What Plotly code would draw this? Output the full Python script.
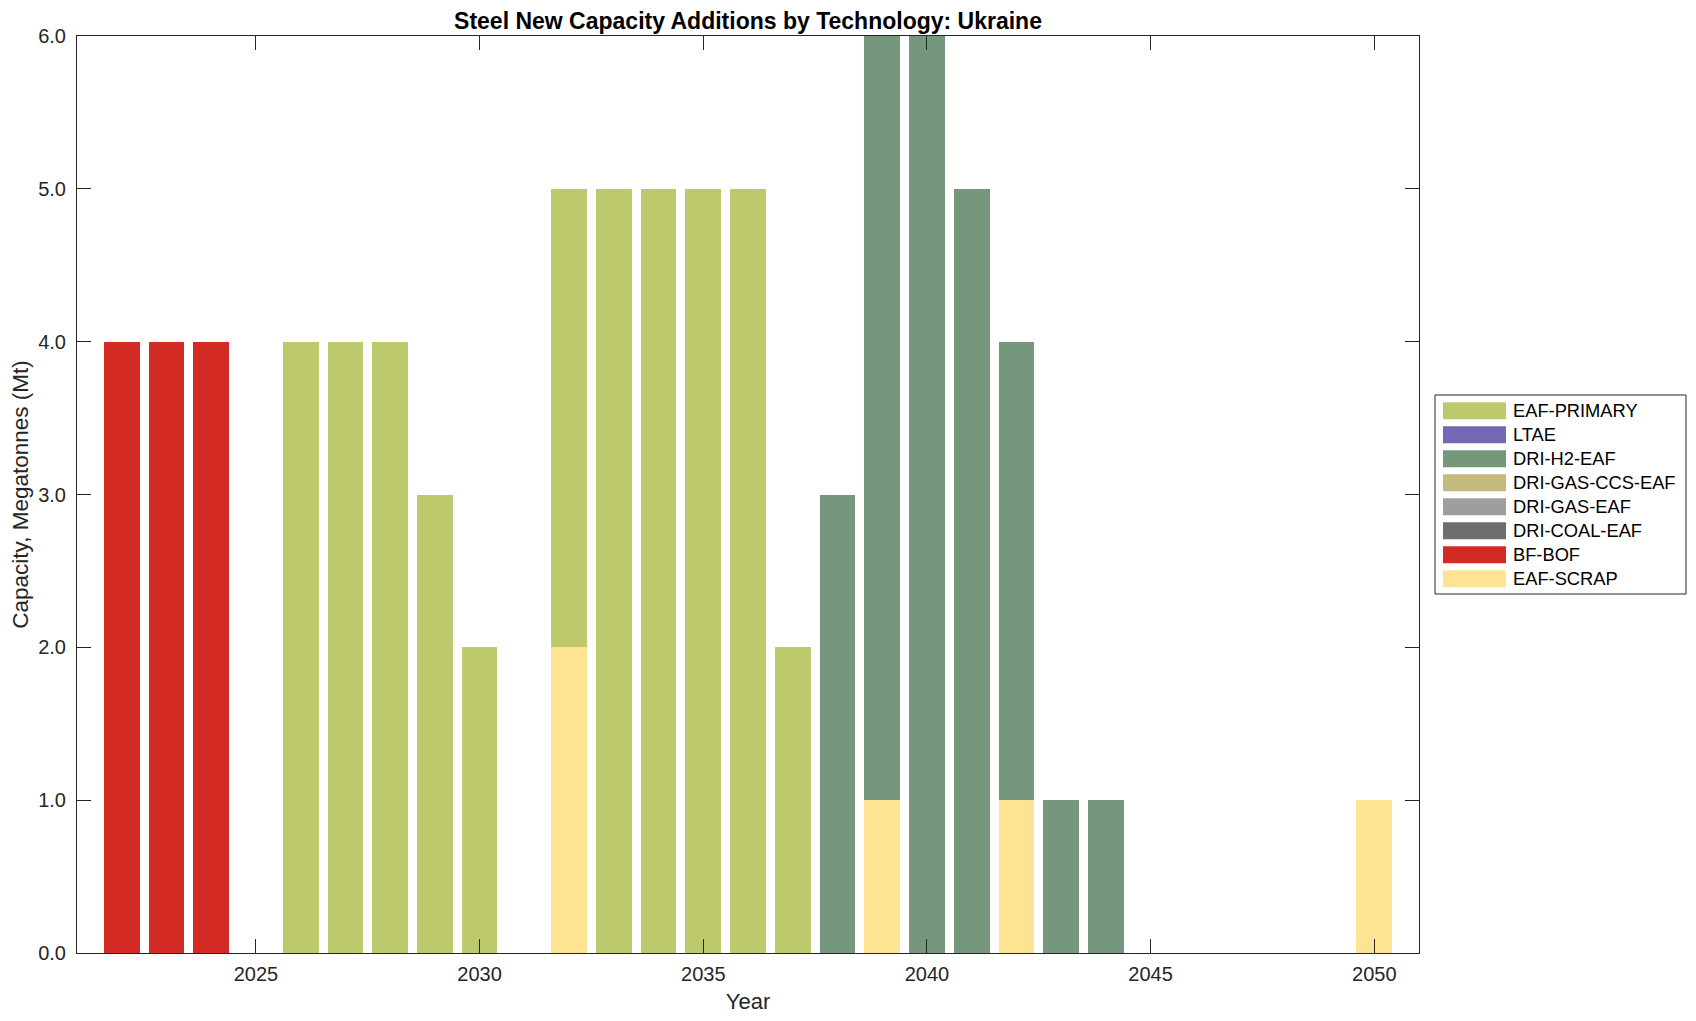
import plotly.graph_objects as go

years = list(range(2022, 2051))
# stacking order bottom -> top
techs = ["EAF-SCRAP", "BF-BOF", "DRI-COAL-EAF", "DRI-GAS-EAF", "DRI-GAS-CCS-EAF", "DRI-H2-EAF", "LTAE", "EAF-PRIMARY"]
colors = ["#FEE492", "#D32A24", "#6E6E6E", "#9E9E9E", "#C4BA7C", "#75987D", "#7368B6", "#BEC86C"]

#            2022 ...                                                                                 2050
eaf_scrap   = [0,0,0,0,0,0,0,0,0,0, 2,0,0,0,0,0,0, 1,0,0, 1,0,0,0,0,0,0,0, 1]
bf_bof      = [4,4,4,0,0,0,0,0,0,0, 0,0,0,0,0,0,0, 0,0,0, 0,0,0,0,0,0,0,0, 0]
dri_coal    = [0]*29
dri_gas     = [0]*29
dri_gas_ccs = [0]*29
dri_h2      = [0,0,0,0,0,0,0,0,0,0, 0,0,0,0,0,0,3, 5,6,5, 3,1,1,0,0,0,0,0, 0]
ltae        = [0]*29
eaf_primary = [0,0,0,0,4,4,4,3,2,0, 3,5,5,5,5,2,0, 0,0,0, 0,0,0,0,0,0,0,0, 0]
series = [eaf_scrap, bf_bof, dri_coal, dri_gas, dri_gas_ccs, dri_h2, ltae, eaf_primary]

# page body has an 8px margin; figure is sized/positioned to compensate
OFF = 8
W, H = 1696 - OFF, 1021 - OFF
L, R, T, B = 77 - OFF, 1419 - OFF, 36 - OFF, 953 - OFF

fig = go.Figure()
for name, col, vals in zip(techs, colors, series):
    fig.add_trace(go.Bar(x=years, y=vals, name=name, marker_color=col,
                         marker_line_width=0, width=0.8, showlegend=False))

font = "Liberation Sans, Arial, Helvetica, sans-serif"
axis_common = dict(showline=True, linecolor="#262626", linewidth=1, mirror="ticks",
                   ticks="inside", ticklen=14, tickcolor="#262626", showgrid=False,
                   zeroline=False, tickfont=dict(family=font, size=20, color="#262626"))
fig.update_layout(
    width=W, height=H, barmode="stack", bargap=0.2,
    plot_bgcolor="white", paper_bgcolor="white",
    margin=dict(l=L, r=W - R, t=T, b=H - B, autoexpand=False),
    title=dict(text="<b>Steel New Capacity Additions by Technology: Ukraine</b>",
               x=(L + R) / 2 / W, xanchor="center", y=1 - (21 - OFF) / H, yanchor="middle",
               yref="container", font=dict(family=font, size=23, color="black")),
    xaxis=dict(range=[2021, 2051], tickvals=[2025, 2030, 2035, 2040, 2045, 2050],
               ticklabelstandoff=3,
               title=dict(text="Year", font=dict(family=font, size=22, color="#262626"), standoff=9),
               **axis_common),
    yaxis=dict(range=[0, 6], tickvals=[0, 1, 2, 3, 4, 5, 6], tickformat=".1f",
               ticklabelstandoff=6,
               title=dict(text="Capacity, Megatonnes (Mt)", font=dict(family=font, size=22.5, color="#262626"), standoff=3),
               **axis_common),
)

def px(xp):
    return (xp - OFF - L) / (R - L)

def py(yp):
    return (B - (yp - OFF)) / (B - T)

# custom legend (box, swatches, labels), top entry = last stacked series
fig.add_shape(type="rect", xref="paper", yref="paper", x0=px(1435), x1=px(1686), y0=py(594), y1=py(395),
              line=dict(color="#262626", width=1), fillcolor="white")
for k, idx in enumerate(reversed(range(len(techs)))):
    cy = 360 + (152 + 72 * k) / 3
    fig.add_shape(type="rect", xref="paper", yref="paper", x0=px(1443), x1=px(1506),
                  y0=py(cy + 8.5), y1=py(cy - 8.5), line=dict(width=0), fillcolor=colors[idx])
    fig.add_annotation(xref="paper", yref="paper", x=px(1511), y=py(cy), text=techs[idx],
                       showarrow=False, xanchor="left", yanchor="middle",
                       font=dict(family=font, size=18.3, color="black"))

fig.write_html("out.html")
